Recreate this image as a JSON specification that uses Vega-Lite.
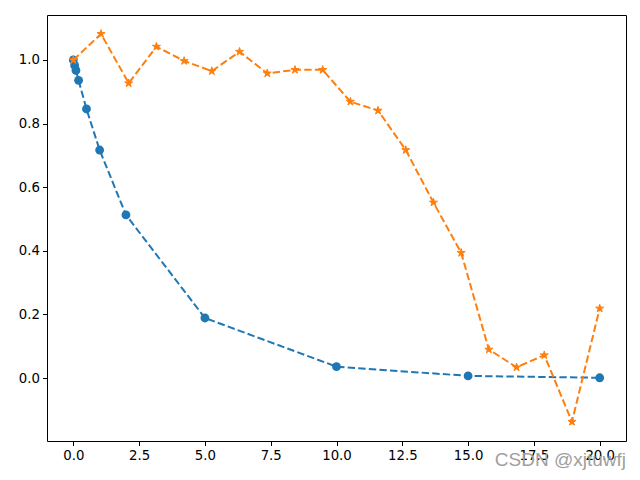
{
  "$schema": "https://vega.github.io/schema/vega-lite/v6.json",
  "width": 579,
  "height": 426,
  "autosize": {"type": "none"},
  "padding": {"left": 47, "top": 15, "right": 14, "bottom": 39},
  "background": "white",
  "config": {
    "view": {"stroke": "black", "strokeWidth": 1},
    "axis": {
      "grid": false,
      "domain": false,
      "tickColor": "black",
      "tickSize": 4.5,
      "tickWidth": 1,
      "labelColor": "black",
      "labelFont": "DejaVu Sans",
      "labelFontSize": 13.3,
      "labelPadding": 3,
      "title": null
    }
  },
  "title": {
    "text": "CSDN @xjtuwfj",
    "orient": "bottom",
    "anchor": "end",
    "font": "Liberation Sans",
    "fontSize": 19,
    "fontWeight": "normal",
    "color": "#a0a0a0",
    "offset": -11,
    "frame": "group"
  },
  "datasets": {
    "blue": [
      {"x": 0, "y": 1.0},
      {"x": 0.05, "y": 0.983},
      {"x": 0.1, "y": 0.967},
      {"x": 0.2, "y": 0.936},
      {"x": 0.5, "y": 0.846},
      {"x": 1, "y": 0.717},
      {"x": 2, "y": 0.513},
      {"x": 5, "y": 0.189},
      {"x": 10, "y": 0.036},
      {"x": 15, "y": 0.007},
      {"x": 20, "y": 0.001}
    ],
    "orange": [
      {"x": 0.0, "y": 1.0},
      {"x": 1.053, "y": 1.082},
      {"x": 2.105, "y": 0.927},
      {"x": 3.158, "y": 1.042},
      {"x": 4.211, "y": 0.997},
      {"x": 5.263, "y": 0.965},
      {"x": 6.316, "y": 1.026},
      {"x": 7.368, "y": 0.958},
      {"x": 8.421, "y": 0.969},
      {"x": 9.474, "y": 0.969},
      {"x": 10.526, "y": 0.869},
      {"x": 11.579, "y": 0.841},
      {"x": 12.632, "y": 0.717},
      {"x": 13.684, "y": 0.552},
      {"x": 14.737, "y": 0.394},
      {"x": 15.789, "y": 0.090},
      {"x": 16.842, "y": 0.034},
      {"x": 17.895, "y": 0.072},
      {"x": 18.947, "y": -0.137},
      {"x": 20.0, "y": 0.219}
    ]
  },
  "encoding": {
    "x": {
      "field": "x",
      "type": "quantitative",
      "scale": {"domain": [-1, 21], "nice": false, "zero": false},
      "axis": {"values": [0, 2.5, 5, 7.5, 10, 12.5, 15, 17.5, 20], "format": ".1f"}
    },
    "y": {
      "field": "y",
      "type": "quantitative",
      "scale": {"domain": [-0.1977, 1.1414], "nice": false, "zero": false},
      "axis": {"values": [0, 0.2, 0.4, 0.6, 0.8, 1.0], "format": ".1f"}
    }
  },
  "layer": [
    {
      "data": {"name": "blue"},
      "mark": {"type": "line", "color": "#1f77b4", "strokeWidth": 2, "strokeDash": [7.4, 3.2]}
    },
    {
      "data": {"name": "blue"},
      "mark": {"type": "point", "shape": "circle", "filled": true, "opacity": 1, "color": "#1f77b4", "size": 78}
    },
    {
      "data": {"name": "orange"},
      "mark": {"type": "line", "color": "#ff7f0e", "strokeWidth": 2, "strokeDash": [7.4, 3.2]}
    },
    {
      "data": {"name": "orange"},
      "mark": {"type": "point", "shape": "M0,-1L0.2245,-0.309L0.951,-0.309L0.363,0.118L0.588,0.809L0,0.382L-0.588,0.809L-0.363,0.118L-0.951,-0.309L-0.2245,-0.309Z", "filled": true, "opacity": 1, "color": "#ff7f0e", "strokeWidth": 1, "stroke": "#ff7f0e", "size": 72}
    }
  ]
}
